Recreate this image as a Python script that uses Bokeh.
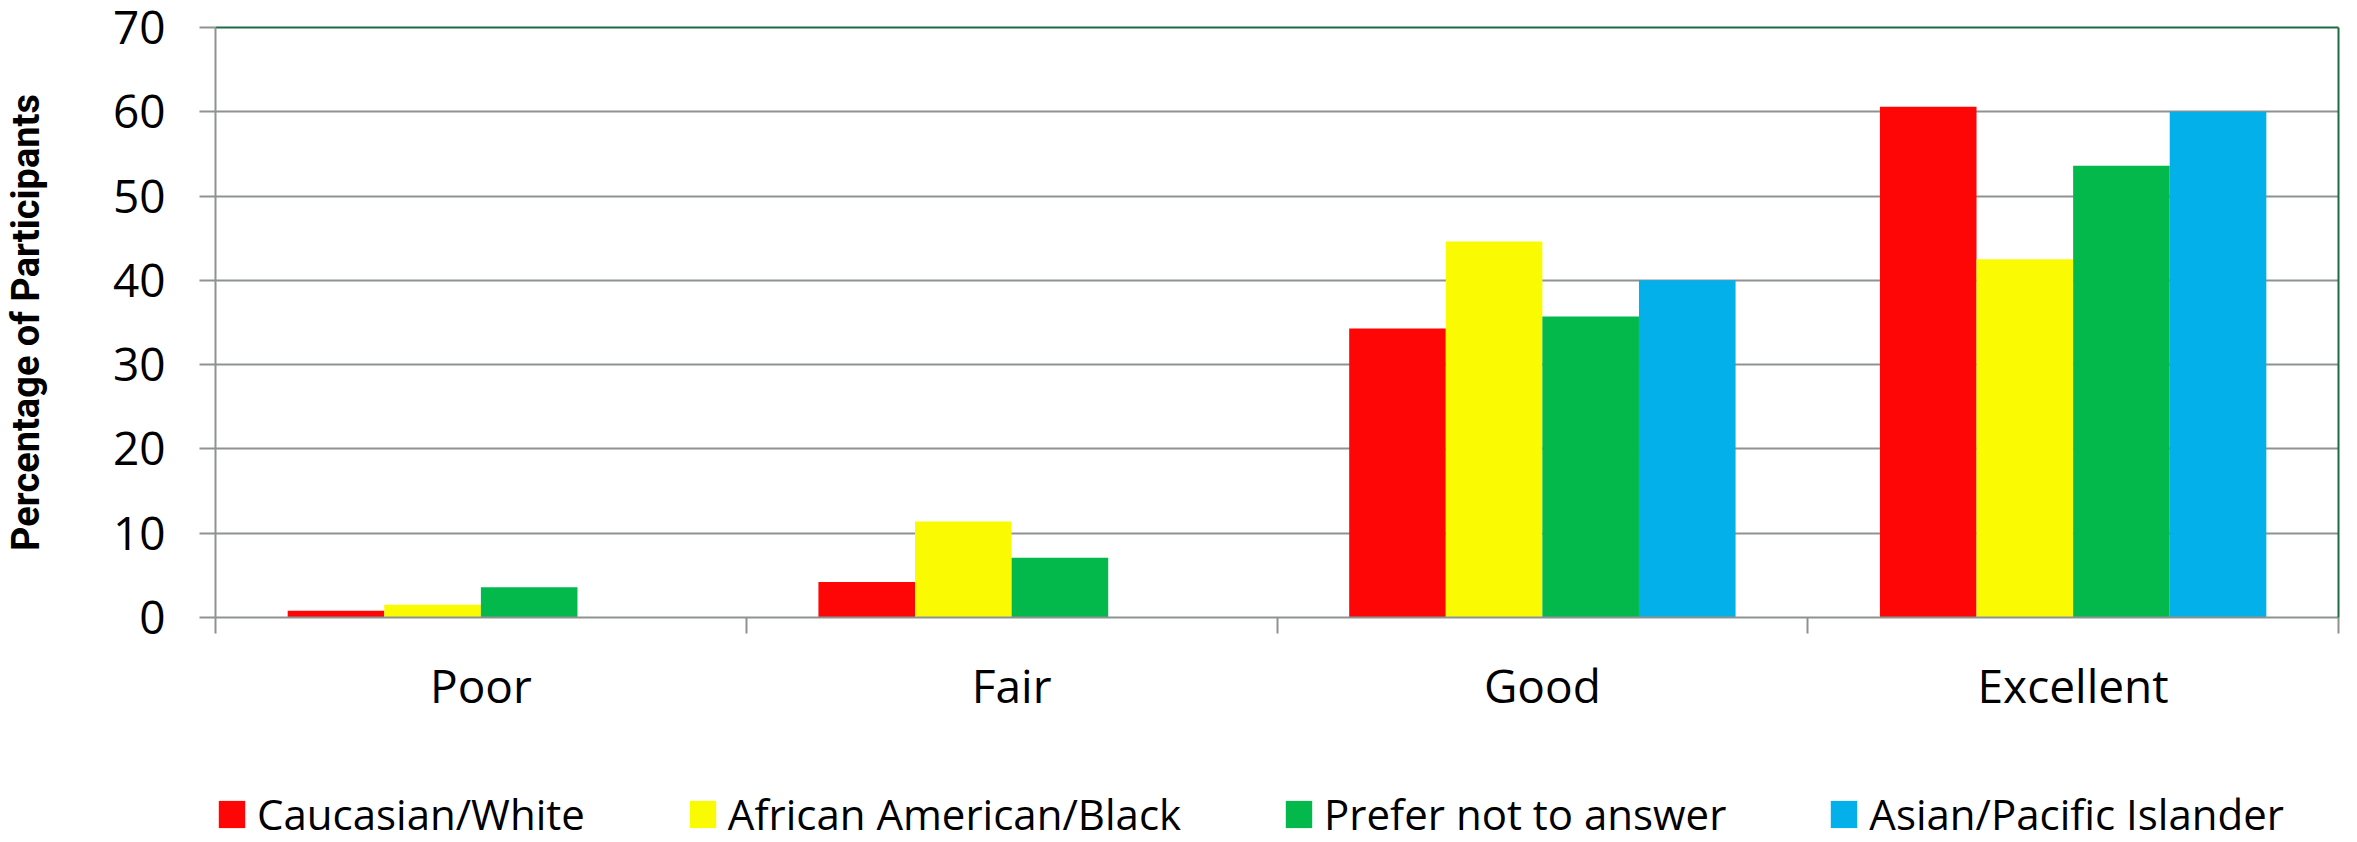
from bokeh.plotting import figure
from bokeh.layouts import column
from bokeh.models import (FactorRange, Range1d, LinearAxis, CategoricalAxis, FixedTicker,
                          ColumnDataSource, Legend, LegendItem)
from bokeh.transform import dodge
from bokeh.embed import file_html
from bokeh.resources import INLINE

# ---- data ----
categories = ["Poor", "Fair", "Good", "Excellent"]
series_names = ["Caucasian/White", "African American/Black",
                "Prefer not to answer", "Asian/Pacific Islander"]
caucasian_white = [0.8, 4.2, 34.3, 60.6]
african_american_black = [1.5, 11.4, 44.6, 42.5]
prefer_not_to_answer = [3.6, 7.1, 35.7, 53.6]
asian_pacific_islander = [0.0, 0.0, 40.0, 60.0]
y_ticks = [0, 10, 20, 30, 40, 50, 60, 70]

# ---- style / layout ----
FILL = ["#FF0606", "#FAFA03", "#03B94B", "#03B0EA"]
GRID = "#8D9391"
FRAME_GREEN = "#1F6B45"
BAR_W = 0.182
OFFSETS = [-1.5 * BAR_W, -0.5 * BAR_W, 0.5 * BAR_W, 1.5 * BAR_W]
COLS = ["s0", "s1", "s2", "s3"]

source = ColumnDataSource(dict(
    cat=categories,
    s0=caucasian_white,
    s1=african_american_black,
    s2=prefer_not_to_answer,
    s3=asian_pacific_islander,
))

y_top = y_ticks[-1]

# ================= main chart =================
p = figure(
    x_range=FactorRange(*categories, range_padding=0),
    y_range=Range1d(y_ticks[0], y_top),
    width=2341, height=718,
    output_backend="svg", toolbar_location=None,
    x_axis_location=None,
    min_border_left=214, min_border_right=3,
    min_border_top=27, min_border_bottom=100,
    background_fill_color="white", border_fill_color="white",
    outline_line_color=None,
)

for i, col in enumerate(COLS):
    p.vbar(x=dodge("cat", OFFSETS[i], range=p.x_range), top=col, bottom=0,
           width=BAR_W, source=source, fill_color=FILL[i], line_color=None)

yax = p.yaxis[0]
yax.ticker = FixedTicker(ticks=y_ticks)
yax.minor_tick_line_color = None
yax.major_tick_out = 16
yax.major_tick_in = 0
yax.major_tick_line_color = GRID
yax.major_tick_line_width = 2
yax.axis_line_color = GRID
yax.axis_line_width = 2
yax.major_label_text_font = "Open Sans"
yax.major_label_text_font_size = "46px"
yax.major_label_text_color = "black"
yax.major_label_standoff = 34
yax.axis_label = "Percentage of Participants"
yax.axis_label_text_font = "Roboto"
yax.axis_label_text_font_style = "bold"
yax.axis_label_text_font_size = "38px"
yax.axis_label_text_color = "black"
yax.axis_label_standoff = 62

p.ygrid.grid_line_color = GRID
p.ygrid.grid_line_width = 2
p.xgrid.visible = False

# boundary ticks between categories (closest to the frame) + category labels
tick_axis = LinearAxis(
    ticker=FixedTicker(ticks=list(range(len(categories) + 1))),
    major_tick_out=16, major_tick_in=0,
    major_tick_line_color=GRID, major_tick_line_width=2,
    minor_tick_line_color=None,
    axis_line_color=GRID, axis_line_width=2,
    major_label_text_font_size="1px", major_label_text_color=None,
    major_label_standoff=0,
)
cat_axis = CategoricalAxis(
    axis_line_color=None, major_tick_line_color=None, minor_tick_line_color=None,
    major_label_text_font="Open Sans", major_label_text_font_size="46px",
    major_label_text_color="black", major_label_standoff=14,
)
p.add_layout(tick_axis, "below")
p.add_layout(cat_axis, "below")

# top / right frame lines
top_axis = LinearAxis(
    ticker=FixedTicker(ticks=[]),
    axis_line_color=FRAME_GREEN, axis_line_width=2,
    major_tick_out=0, major_tick_in=0,
    major_tick_line_color=None, minor_tick_line_color=None,
    major_label_text_font_size="1px", major_label_text_color=None,
    major_label_standoff=0,
)
right_axis = LinearAxis(
    ticker=FixedTicker(ticks=[]),
    axis_line_color=FRAME_GREEN, axis_line_width=2,
    major_tick_out=0, major_tick_in=0,
    major_tick_line_color=None, minor_tick_line_color=None,
    major_label_text_font_size="1px", major_label_text_color=None,
    major_label_standoff=0,
)
p.add_layout(top_axis, "above")
p.add_layout(right_axis, "right")

# ================= legend strip =================
pl = figure(
    x_range=FactorRange(*categories, range_padding=0),
    y_range=Range1d(y_ticks[0], y_top),
    width=2341, height=116,
    output_backend="svg", toolbar_location=None,
    x_axis_location=None, y_axis_location=None,
    min_border=0,
    background_fill_color="white", border_fill_color="white",
    outline_line_color=None,
)
pl.xgrid.visible = False
pl.ygrid.visible = False

legend_renderers = []
for i, col in enumerate(COLS):
    r = pl.vbar(x=dodge("cat", OFFSETS[i], range=pl.x_range), top=col, bottom=0,
                width=BAR_W, source=source, fill_color=FILL[i], line_color=None,
                visible=False)
    legend_renderers.append(r)

legend = Legend(
    items=[LegendItem(label=n, renderers=[r]) for n, r in zip(series_names, legend_renderers)],
    orientation="horizontal",
    location=(0, -8),
    glyph_width=33, glyph_height=34,
    label_text_font="Open Sans", label_text_font_size="42px",
    label_text_color="black",
    label_standoff=9, spacing=101,
    padding=0, margin=0,
    border_line_color=None, background_fill_alpha=0,
    inactive_fill_alpha=0,
)
pl.add_layout(legend)

layout = column(p, pl, spacing=0)
open("out.html", "w").write(file_html(layout, INLINE))
